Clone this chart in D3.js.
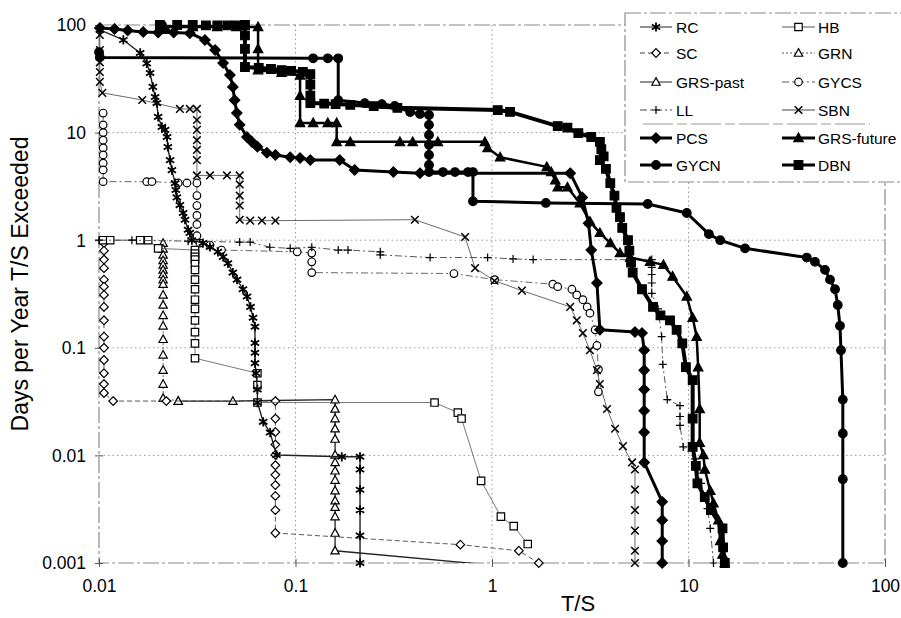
<!DOCTYPE html>
<html>
<head>
<meta charset="utf-8">
<script src="https://cdn.jsdelivr.net/npm/d3@7"></script>
<style>
  html, body { margin: 0; padding: 0; background: #fff; }
  svg { display: block; font-family: "Liberation Sans", Arial, sans-serif; }
</style>
</head>
<body>
<svg id="chart" width="901" height="618"></svg>
<script>
// Axis ticks
const xTicks = [0.01, 0.1, 1, 10, 100];
const xTickLabels = ["0.01", "0.1", "1", "10", "100"];
const yTicks = [0.001, 0.01, 0.1, 1, 10, 100];
const yTickLabels = ["0.001", "0.01", "0.1", "1", "10", "100"];

// Series values, [T/S, days per year exceeded]
const RC = [[0.0101,90],[0.0133,72.6],[0.0162,55],[0.0175,44],[0.0182,35.8],[0.0188,26.6],[0.0193,21.4],[0.0197,18.8],[0.020,14],[0.0209,11.3],[0.0217,10.6],[0.0222,9.1],[0.0224,7.35],[0.023,5.55],[0.0235,4.48],[0.0244,3.39],[0.0246,2.93],[0.0249,2.5],[0.0258,2.12],[0.0268,1.79],[0.0274,1.55],[0.0284,1.25],[0.029,1.17],[0.0297,1.0],[0.0338,0.94],[0.0367,0.865],[0.0403,0.78],[0.0428,0.70],[0.0453,0.61],[0.048,0.50],[0.0504,0.43],[0.054,0.35],[0.0567,0.30],[0.059,0.24],[0.0608,0.19],[0.0622,0.157],[0.0622,0.111],[0.0622,0.09],[0.0622,0.072],[0.063,0.058],[0.064,0.041],[0.064,0.031],[0.0685,0.0205],[0.0743,0.0163],[0.080,0.0101],[0.172,0.0097],[0.213,0.0097],[0.213,0.0074],[0.213,0.0048],[0.213,0.0031],[0.213,0.0018],[0.213,0.001]];

const HB = [[0.0105,1.0],[0.0114,1.0],[0.0162,1.0],[0.0178,1.0],[0.020,0.84],[0.0308,0.81],[0.0308,0.75],[0.0308,0.70],[0.0308,0.66],[0.0308,0.60],[0.0308,0.53],[0.0308,0.43],[0.0308,0.35],[0.0308,0.28],[0.0308,0.23],[0.0308,0.18],[0.0308,0.14],[0.0308,0.11],[0.0308,0.08],[0.064,0.058],[0.064,0.045],[0.064,0.031],[0.51,0.031],[0.67,0.025],[0.70,0.022],[0.88,0.0058],[1.11,0.0027],[1.29,0.0022],[1.52,0.0015]];

const SC = [[0.0106,0.94],[0.0106,0.8],[0.0106,0.66],[0.0106,0.55],[0.0106,0.43],[0.0106,0.37],[0.0106,0.31],[0.0106,0.24],[0.0106,0.18],[0.0106,0.127],[0.0106,0.10],[0.0106,0.077],[0.0106,0.058],[0.0106,0.046],[0.0106,0.038],[0.0118,0.032],[0.022,0.032],[0.079,0.032],[0.079,0.022],[0.079,0.0165],[0.079,0.0126],[0.079,0.0101],[0.079,0.0081],[0.079,0.0066],[0.079,0.0053],[0.079,0.0042],[0.079,0.0031],[0.079,0.0019],[0.69,0.00148],[1.37,0.0013],[1.73,0.001]];

const GRN = [[0.0212,0.94],[0.0212,0.83],[0.0212,0.73],[0.0212,0.65],[0.0212,0.59],[0.0212,0.53],[0.0212,0.48],[0.0212,0.43],[0.0212,0.39],[0.0212,0.31],[0.0212,0.25],[0.0212,0.20],[0.0212,0.16],[0.0212,0.12],[0.0212,0.086],[0.0212,0.062],[0.0212,0.046],[0.0212,0.034],[0.0253,0.032]];

const GRS_PAST = [[0.0253,0.032],[0.048,0.032],[0.159,0.033],[0.159,0.027],[0.159,0.022],[0.159,0.0177],[0.159,0.0142],[0.159,0.0101],[0.159,0.0086],[0.159,0.0072],[0.159,0.0059],[0.159,0.0047],[0.159,0.0038],[0.159,0.0033],[0.159,0.0027],[0.159,0.0019],[0.159,0.0013],[1.1,0.00094]];

const GYCS = [[0.0105,15.2],[0.0105,11.8],[0.0105,10],[0.0105,8.5],[0.0105,7.2],[0.0105,6.2],[0.0105,5.2],[0.0105,4.5],[0.0105,3.5],[0.0175,3.5],[0.0186,3.5],[0.0253,3.4],[0.028,3.4],[0.0315,3.4],[0.0315,2.6],[0.0315,2.1],[0.0315,1.7],[0.0315,1.4],[0.0315,1.1],[0.0326,0.94],[0.0367,0.90],[0.042,0.81],[0.102,0.78],[0.121,0.76],[0.121,0.63],[0.121,0.50],[0.64,0.49],[1.03,0.43],[2.04,0.39],[2.16,0.37],[2.55,0.35],[2.7,0.31],[2.9,0.28],[3.05,0.24],[3.15,0.21],[3.35,0.147],[3.42,0.105],[3.48,0.063],[3.48,0.039]];

const LL = [[0.01,1.0],[0.0147,1.0],[0.0284,0.98],[0.052,0.96],[0.0588,0.96],[0.074,0.86],[0.094,0.84],[0.121,0.86],[0.165,0.81],[0.185,0.81],[0.27,0.78],[0.27,0.73],[0.484,0.69],[0.95,0.69],[1.28,0.67],[1.62,0.66],[5.05,0.66],[6.5,0.66],[6.5,0.56],[6.5,0.48],[6.5,0.40],[6.5,0.32],[7.0,0.23],[7.3,0.127],[7.4,0.070],[7.8,0.033],[9.05,0.029],[9.05,0.023],[9.05,0.019],[9.4,0.012],[10.8,0.0093],[11.6,0.0055],[12.1,0.0041],[12.5,0.0032],[12.9,0.0021],[13.4,0.001]];

const SBN = [[0.0101,80.7],[0.0101,58.6],[0.0101,45],[0.0101,36.6],[0.0101,29.6],[0.0104,23.4],[0.0166,20.1],[0.0258,16.6],[0.029,16.6],[0.0315,16.6],[0.0315,13.1],[0.0315,10.6],[0.0315,8.5],[0.0315,6.9],[0.0315,5.55],[0.0315,4.0],[0.0367,4.0],[0.0448,4.0],[0.052,4.0],[0.052,3.3],[0.052,2.6],[0.052,2.1],[0.052,1.55],[0.0588,1.52],[0.0675,1.52],[0.079,1.52],[0.405,1.55],[0.73,1.07],[0.82,0.55],[1.03,0.42],[1.42,0.34],[2.5,0.24],[2.7,0.18],[2.9,0.137],[3.15,0.095],[3.42,0.062],[3.54,0.046],[3.85,0.027],[4.23,0.0177],[4.64,0.0122],[5.16,0.0086],[5.34,0.0074],[5.34,0.0048],[5.34,0.0031],[5.34,0.0020],[5.34,0.0013],[5.34,0.001]];

const PCS = [[0.0101,94],[0.012,92],[0.014,89],[0.0168,86],[0.02,85],[0.024,85],[0.029,84],[0.0346,72.6],[0.039,58.6],[0.0428,44.3],[0.0464,34.3],[0.048,26.6],[0.049,20],[0.0503,15.2],[0.052,11.8],[0.0566,9.1],[0.06,8.2],[0.064,7.4],[0.0715,6.5],[0.079,6.2],[0.094,5.9],[0.1055,5.8],[0.119,5.55],[0.168,5.55],[0.20,4.5],[0.315,4.3],[0.43,4.2],[2.5,4.2],[2.88,2.5],[3.1,1.44],[3.2,0.81],[3.42,0.40],[3.54,0.147],[5.34,0.14],[5.8,0.137],[5.95,0.095],[5.95,0.062],[5.95,0.041],[5.95,0.026],[5.95,0.0164],[5.95,0.0086],[7.35,0.0037],[7.35,0.0025],[7.35,0.0016],[7.35,0.001]];

const GRS_FUTURE = [[0.0217,96],[0.03,96],[0.04,96],[0.05,96],[0.0645,96],[0.0645,60],[0.0645,38],[0.085,36],[0.1055,34],[0.1055,22],[0.1055,12.3],[0.123,12.3],[0.146,12.3],[0.162,12.3],[0.162,8.2],[0.19,8.2],[0.34,8.2],[0.395,8.2],[0.53,8.2],[0.92,8.2],[0.95,7.2],[1.1,5.9],[1.9,4.8],[2.0,4.3],[2.1,3.6],[2.16,3.1],[2.42,3.1],[2.8,2.2],[3.15,1.49],[3.54,1.17],[4.0,0.94],[4.48,0.76],[5.05,0.69],[6.37,0.63],[7.45,0.59],[8.3,0.46],[9.8,0.30],[10.5,0.19],[11.0,0.127],[11.2,0.066],[11.4,0.027],[11.4,0.0131],[11.9,0.0101],[12.1,0.0074],[12.9,0.0047],[13.4,0.0036],[14.2,0.0025],[14.5,0.0016],[14.9,0.0012],[15.3,0.001]];

const GYCN = [[0.01,56],[0.0101,50],[0.123,49],[0.146,49],[0.165,49],[0.165,20],[0.225,18.8],[0.275,18.4],[0.32,17.7],[0.383,15.5],[0.43,14.9],[0.478,14.6],[0.478,11.8],[0.478,9.5],[0.478,7.7],[0.478,6.2],[0.478,5.0],[0.478,4.3],[0.563,4.3],[0.648,4.3],[0.755,4.3],[0.80,4.3],[0.80,2.3],[1.88,2.22],[6.2,2.17],[9.8,1.79],[12.7,1.14],[14.5,1.0],[19.4,0.84],[40,0.69],[44,0.63],[49.5,0.53],[52.5,0.43],[55.7,0.35],[57.5,0.25],[59,0.16],[59.7,0.095],[61,0.033],[61,0.016],[61,0.006],[61,0.001]];

const DBN = [[0.0204,100],[0.025,100],[0.03,100],[0.035,99],[0.04,99],[0.045,99],[0.05,99],[0.0553,100],[0.0553,80],[0.0553,60],[0.0553,40.7],[0.065,40],[0.075,39],[0.085,38],[0.095,37.5],[0.109,36.6],[0.119,35],[0.119,28],[0.119,22],[0.119,18.8],[0.14,18.6],[0.16,18.4],[0.19,18.1],[0.25,17.6],[0.33,17],[1.07,16.2],[1.235,15.6],[2.16,11.5],[2.42,11.1],[2.75,9.9],[3.2,9.1],[3.54,8.2],[3.6,7],[3.7,6],[3.54,5.55],[3.8,4.6],[4.0,3.39],[4.2,2.6],[4.3,2.0],[4.48,1.64],[4.6,1.3],[4.92,1.0],[5.0,0.8],[5.1,0.62],[5.2,0.50],[5.8,0.35],[6.6,0.24],[7.2,0.20],[8.05,0.18],[8.7,0.147],[9.3,0.11],[9.7,0.066],[10.5,0.05],[10.5,0.022],[10.5,0.012],[10.9,0.008],[11.1,0.0055],[12.1,0.0041],[13.0,0.0031],[14.9,0.0021],[15.0,0.0014],[15.3,0.001]];

// Legend layout: [left, right] per row
const legendRows = [["RC", "HB"], ["SC", "GRN"], ["GRS-past", "GYCS"], ["LL", "SBN"], ["PCS", "GRS-future"], ["GYCN", "DBN"]];

const styles = {
  "RC":         { data: RC,         width: 1.4, color: "#222", dash: null,      marker: "asterisk", filled: false, size: 4.6 },
  "HB":         { data: HB,         width: 0.8, color: "#555", dash: null,      marker: "square",   filled: false, size: 3.7 },
  "SC":         { data: SC,         width: 0.9, color: "#444", dash: "5,3",     marker: "diamond",  filled: false, size: 3.6 },
  "GRN":        { data: GRN,        width: 0.9, color: "#555", dash: "2,2",     marker: "triangle", filled: false, size: 3.8 },
  "GRS-past":   { data: GRS_PAST,   width: 1.3, color: "#222", dash: null,      marker: "triangle", filled: false, size: 3.8 },
  "GYCS":       { data: GYCS,       width: 0.9, color: "#555", dash: "7,3,2,3", marker: "circle",   filled: false, size: 3.8 },
  "LL":         { data: LL,         width: 0.9, color: "#444", dash: "7,3,2,3", marker: "plus",     filled: false, size: 4 },
  "SBN":        { data: SBN,        width: 0.8, color: "#444", dash: null,      marker: "cross",    filled: false, size: 3.8 },
  "PCS":        { data: PCS,        width: 3,   color: "#000", dash: null,      marker: "diamond",  filled: true,  size: 4.3 },
  "GRS-future": { data: GRS_FUTURE, width: 2.5, color: "#000", dash: null,      marker: "triangle", filled: true,  size: 4.3 },
  "GYCN":       { data: GYCN,       width: 3,   color: "#000", dash: null,      marker: "circle",   filled: true,  size: 4.3 },
  "DBN":        { data: DBN,        width: 4,   color: "#000", dash: null,      marker: "square",   filled: true,  size: 4.3 }
};

const drawOrder = ["GRN", "GRS-past", "SC", "HB", "GYCS", "LL", "SBN", "RC", "PCS", "GYCN", "GRS-future", "DBN"];

const svg = d3.select("#chart");

const x = d3.scaleLog().domain([0.01, 100]).range([99, 885]);
const y = d3.scaleLog().domain([0.001, 100]).range([563, 25]);

function markerPath(type, s) {
  switch (type) {
    case "square":   return `M${-s},${-s}H${s}V${s}H${-s}Z`;
    case "diamond":  return `M0,${-s * 1.2}L${s * 1.2},0L0,${s * 1.2}L${-s * 1.2},0Z`;
    case "triangle": return `M0,${-s * 1.15}L${s * 1.1},${s * 0.85}L${-s * 1.1},${s * 0.85}Z`;
    case "plus":     return `M${-s},0H${s}M0,${-s}V${s}`;
    case "cross":    return `M${-s},${-s}L${s},${s}M${-s},${s}L${s},${-s}`;
    case "asterisk": return `M0,${-s}V${s}M${-s * 0.9},${-s * 0.55}L${s * 0.9},${s * 0.55}M${-s * 0.9},${s * 0.55}L${s * 0.9},${-s * 0.55}`;
  }
  return "";
}

function drawMarker(g, st, px, py) {
  const s = st.size;
  if (st.marker === "circle") {
    g.append("circle")
      .attr("cx", px).attr("cy", py)
      .attr("r", s)
      .attr("fill", st.filled ? "#000" : "#fff")
      .attr("stroke", "#000")
      .attr("stroke-width", 1.2);
    return;
  }
  const open = ["plus", "cross", "asterisk"].includes(st.marker);
  g.append("path")
    .attr("d", markerPath(st.marker, s))
    .attr("transform", `translate(${px},${py})`)
    .attr("fill", open ? "none" : (st.filled ? "#000" : "#fff"))
    .attr("stroke", "#000")
    .attr("stroke-width", st.marker === "asterisk" ? 1.8 : (st.marker === "cross" ? 1.5 : 1.2));
}

// grid
const grid = svg.append("g");
[0.1, 1, 10].forEach(v => {
  grid.append("line")
    .attr("x1", x(v)).attr("x2", x(v)).attr("y1", y(100)).attr("y2", y(0.001))
    .attr("stroke", "#999").attr("stroke-width", 1).attr("stroke-dasharray", "1.5,3");
});
[10, 1, 0.1, 0.01].forEach(v => {
  grid.append("line")
    .attr("x1", x(0.01)).attr("x2", x(100)).attr("y1", y(v)).attr("y2", y(v))
    .attr("stroke", "#999").attr("stroke-width", 1).attr("stroke-dasharray", "1.5,3");
});

// frame
svg.append("rect")
  .attr("x", x(0.01)).attr("y", y(100))
  .attr("width", x(100) - x(0.01)).attr("height", y(0.001) - y(100))
  .attr("fill", "none").attr("stroke", "#8a8a8a").attr("stroke-width", 1.2)
  .attr("stroke-dasharray", "16,3,3,3");

// axes
const xAxis = svg.append("g")
  .attr("transform", `translate(0,${y(0.001)})`)
  .call(d3.axisBottom(x).tickValues(xTicks).tickFormat((d, i) => xTickLabels[i]).tickSize(4));
xAxis.select(".domain").remove();
xAxis.selectAll(".tick line").attr("y1", -4).attr("y2", 4).attr("stroke", "#555");
xAxis.selectAll(".tick text")
  .attr("y", 29).attr("dy", null)
  .attr("font-size", 17.5).attr("fill", "#000")
  .attr("font-family", "Liberation Sans, Arial, sans-serif");

const yAxis = svg.append("g")
  .attr("transform", `translate(${x(0.01)},0)`)
  .call(d3.axisLeft(y).tickValues(yTicks).tickFormat((d, i) => yTickLabels[i]).tickSize(4));
yAxis.select(".domain").remove();
yAxis.selectAll(".tick line").attr("x1", -4).attr("x2", 4).attr("stroke", "#555");
yAxis.selectAll(".tick text")
  .attr("x", -13).attr("dy", "0.34em")
  .attr("font-size", 17.5).attr("fill", "#000")
  .attr("font-family", "Liberation Sans, Arial, sans-serif");

// titles
svg.append("text")
  .attr("x", 578).attr("y", 611)
  .attr("text-anchor", "middle")
  .attr("font-size", 22)
  .text("T/S");

svg.append("text")
  .attr("transform", "translate(28,284) rotate(-90)")
  .attr("text-anchor", "middle")
  .attr("font-size", 23)
  .text("Days per Year T/S Exceeded");

// data
svg.append("defs").append("clipPath").attr("id", "plotClip")
  .append("rect")
  .attr("x", x(0.01)).attr("y", y(100))
  .attr("width", x(100) - x(0.01)).attr("height", y(0.001) - y(100));

const line = d3.line().x(d => x(d[0])).y(d => y(d[1]));
const dataLayer = svg.append("g");

drawOrder.forEach(name => {
  const st = styles[name];
  const g = dataLayer.append("g");
  g.append("path")
    .datum(st.data)
    .attr("d", line)
    .attr("clip-path", "url(#plotClip)")
    .attr("fill", "none")
    .attr("stroke", st.color)
    .attr("stroke-width", st.width)
    .attr("stroke-linejoin", "round")
    .attr("stroke-dasharray", st.dash);
  st.data
    .filter(d => d[0] >= 0.01 && d[0] <= 100 && d[1] >= 0.001 && d[1] <= 100)
    .forEach(d => drawMarker(g, st, x(d[0]), y(d[1])));
});

// legend
const legend = svg.append("g");
legend.append("rect")
  .attr("x", 625).attr("y", 13).attr("width", 300).attr("height", 169)
  .attr("fill", "#fff").attr("stroke", "#8a8a8a").attr("stroke-width", 1.2)
  .attr("stroke-dasharray", "16,3,3,3");
legend.append("line")
  .attr("x1", 643).attr("x2", 870).attr("y1", 124).attr("y2", 124)
  .attr("stroke", "#999").attr("stroke-width", 1.2).attr("stroke-dasharray", "30,4,10,4");

const legendY = [27, 53, 82, 110, 138, 165];
const legendCols = [{ x1: 640, x2: 672, tx: 676 }, { x1: 782, x2: 815, tx: 818 }];

legendRows.forEach((row, r) => {
  row.forEach((name, c) => {
    const st = styles[name];
    const col = legendCols[c];
    const ly = legendY[r];
    const g = legend.append("g");
    g.append("line")
      .attr("x1", col.x1).attr("x2", col.x2).attr("y1", ly).attr("y2", ly)
      .attr("stroke", st.color)
      .attr("stroke-width", st.filled ? 3 : 1)
      .attr("stroke-dasharray", st.dash);
    drawMarker(g, st, (col.x1 + col.x2) / 2, ly);
    g.append("text")
      .attr("x", col.tx).attr("y", ly).attr("dy", "0.36em")
      .attr("font-size", 15.5)
      .text(name);
  });
});
</script>
</body>
</html>
